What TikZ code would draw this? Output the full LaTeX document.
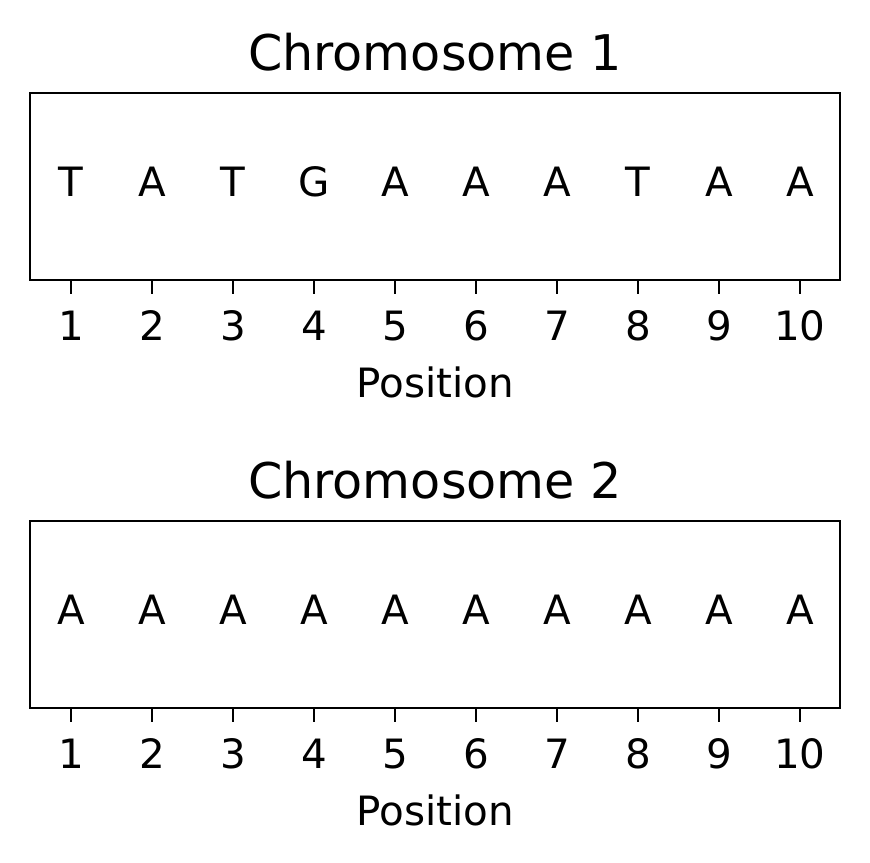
\documentclass[tikz,border=0pt]{standalone}
\usepackage{fontspec}
\setmainfont{DejaVu Sans}
\usepackage{tikz}
\usetikzlibrary{positioning,calc}
\tikzset{
  seqbox/.style={draw=black,line width=1.5pt},
  base/.style={anchor=base,inner sep=0pt,font=\fontsize{23}{26}\selectfont},
  ticklab/.style={anchor=base,inner sep=0pt,font=\fontsize{23}{26}\selectfont},
  axlab/.style={anchor=base,inner sep=0pt,font=\fontsize{23}{26}\selectfont},
  paneltitle/.style={anchor=base,inner sep=0pt,font=\fontsize{28}{32}\selectfont},
  tickmark/.style={line width=1.5pt}
}

\begin{document}
\begin{tikzpicture}[x=0.02cm,y=-0.02cm]
  \useasboundingbox (0,0) rectangle (870,863);
  \foreach \p/\off/\seq in {1/0/{T,A,T,G,A,A,A,T,A,A},2/428/{A,A,A,A,A,A,A,A,A,A}}{
    \draw[seqbox] (30,93+\off) rectangle (840,280+\off);
    \node[paneltitle] (title\p) at (435,70+\off) {Chromosome \p};
    \foreach \b [count=\i] in \seq {
      \node[base] (b\p-\i) at (71+81*\i-81,196+\off) {\b};
      \draw[tickmark] (71+81*\i-81,280+\off) -- (71+81*\i-81,294+\off);
      \node[ticklab] (t\p-\i) at (71+81*\i-81,340+\off) {\i};
    }
    \node[axlab] (pos\p) at (435,397+\off) {Position};
  }
\end{tikzpicture}
\end{document}
